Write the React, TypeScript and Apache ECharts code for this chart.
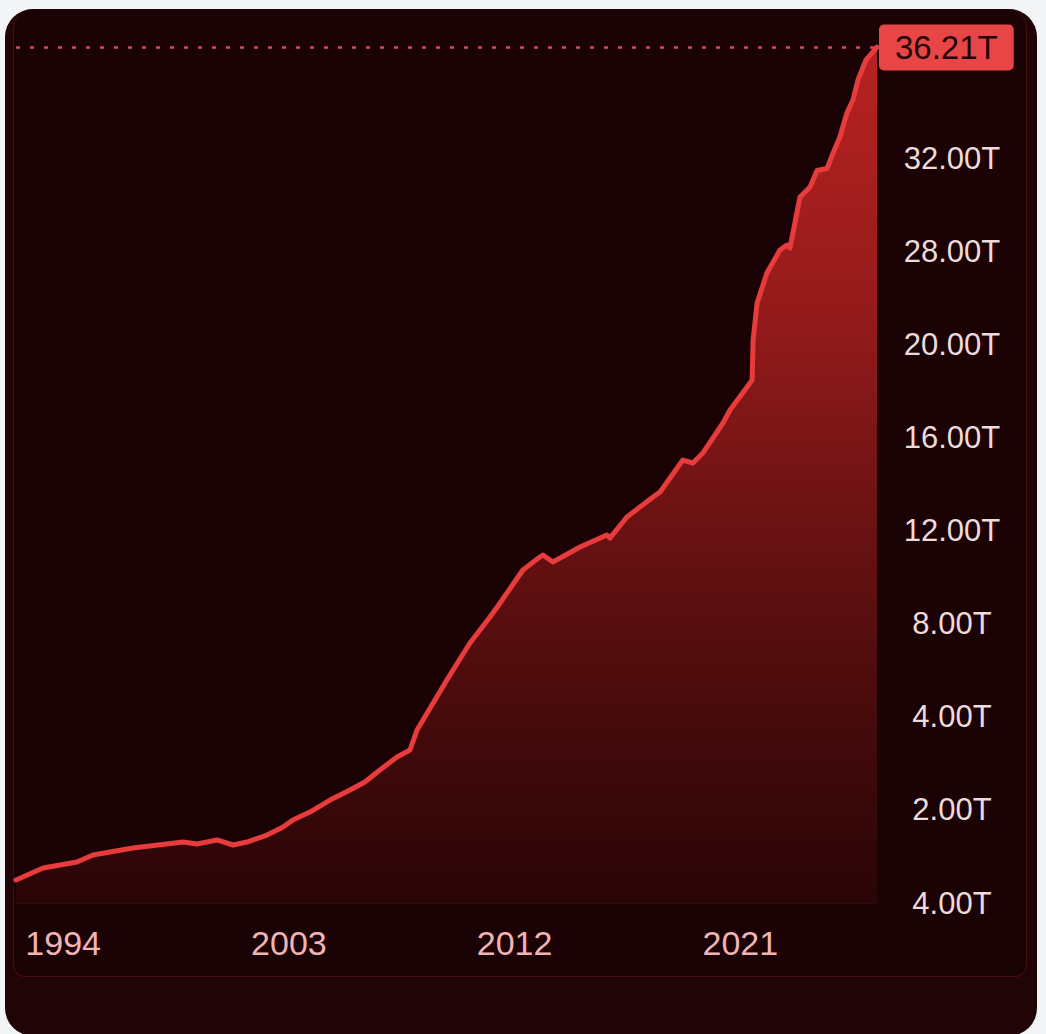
import React, { useEffect, useRef } from "react";
import * as echarts from "echarts";

// Data. x: year, y: position in axis tick units
// (the chart's y axis has evenly spaced, non-linear tick labels).
const years = [
  1992.12, 1993.2, 1994.55, 1995.19, 1996.78, 1998.78, 1999.34, 2000.13, 2000.77, 2001.33,
  2002.13, 2002.77, 2003.16, 2003.84, 2004.64, 2005.44, 2006.03, 2006.63, 2007.31, 2007.83,
  2008.11, 2009.3, 2010.22, 2011.02, 2011.42, 2012.33, 2013.01, 2013.13, 2013.53, 2014.61,
  2015.68, 2015.8, 2016.48, 2017.0, 2017.52, 2017.8, 2018.71, 2019.11, 2019.51, 2020.31,
  2020.59, 2021.27, 2021.47, 2021.51, 2021.67, 2022.06, 2022.58, 2022.86, 2022.98, 2023.38,
  2023.78, 2024.06, 2024.46, 2024.7, 2024.97, 2025.25, 2025.49, 2025.69, 2026.01, 2026.45,
];
const debtTickUnits = [
  0.247, 0.376, 0.44, 0.516, 0.591, 0.655, 0.634, 0.677, 0.623, 0.655,
  0.73, 0.816, 0.892, 0.977, 1.106, 1.214, 1.3, 1.429, 1.568, 1.643,
  1.858, 2.395, 2.793, 3.072, 3.222, 3.577, 3.716, 3.738, 3.663, 3.824,
  3.953, 3.92, 4.146, 4.254, 4.361, 4.415, 4.758, 4.726, 4.834, 5.156,
  5.295, 5.542, 5.618, 6.047, 6.445, 6.767, 7.014, 7.068, 7.036, 7.583,
  7.691, 7.868, 7.89, 8.056, 8.228, 8.486, 8.625, 8.84, 9.055, 9.194,
];
const yTickLabels = ["4.00T", "2.00T", "4.00T", "8.00T", "12.00T", "16.00T", "20.00T", "28.00T", "32.00T"];
const xTickYears = [1994, 2003, 2012, 2021];
const lastValueLabel = "36.21T";

const FONT = "'Liberation Sans', Arial, Helvetica, sans-serif";

export default function App() {
  const ref = useRef<HTMLDivElement>(null);

  useEffect(() => {
    if (!ref.current) return;
    const chart = echarts.init(ref.current, undefined, { renderer: "svg" });
    const seriesData = years.map((y, i) => [y, debtTickUnits[i]]);
    const lastVal = debtTickUnits[debtTickUnits.length - 1];
    chart.setOption({
      animation: false,
      backgroundColor: "transparent",
      grid: { left: 16, right: 169, top: 46.5, bottom: 131 },
      xAxis: {
        type: "value",
        min: years[0],
        max: years[years.length - 1],
        splitLine: { show: false },
        axisTick: { show: false },
        axisLine: { show: true, lineStyle: { color: "#3e0d12", width: 1.5 } },
        axisLabel: {
          customValues: xTickYears,
          formatter: (v: number) => String(Math.round(v)),
          color: "#f0b4b4",
          fontSize: 34,
          fontFamily: FONT,
          margin: 23,
        },
      },
      yAxis: {
        type: "value",
        position: "right",
        min: 0,
        max: 9.2,
        interval: 1,
        splitLine: { show: false },
        axisTick: { show: false },
        axisLine: { show: false },
        axisLabel: {
          formatter: (v: number) => yTickLabels[Math.round(v)] ?? "",
          color: "#eddada",
          fontSize: 31,
          fontFamily: FONT,
          align: "center",
          margin: 75,
          showMaxLabel: false,
        },
      },
      series: [
        {
          type: "line",
          data: seriesData,
          symbol: "none",
          smooth: false,
          lineStyle: { color: "#e83b3c", width: 5, cap: "round", join: "round" },
          areaStyle: {
            origin: "start",
            opacity: 1,
            color: new echarts.graphic.LinearGradient(0, 0, 0, 1, [
              { offset: 0, color: "#b72222" },
              { offset: 0.3, color: "#961b1b" },
              { offset: 0.55, color: "#6c1213" },
              { offset: 0.8, color: "#440a0b" },
              { offset: 1, color: "#2a0507" },
            ]),
          },
          markLine: {
            silent: true,
            symbol: "none",
            lineStyle: { color: "#d24a56", type: [4, 10], width: 2.5 },
            label: {
              show: true,
              position: "end",
              distance: 2,
              formatter: () => lastValueLabel,
              color: "#230404",
              fontSize: 33,
              fontFamily: FONT,
              backgroundColor: "#e84646",
              borderRadius: 5,
              padding: [7, 16, 6, 16],
            },
            data: [{ yAxis: lastVal }],
          },
        },
      ],
    });
    return () => chart.dispose();
  }, []);

  return (
    <div style={{ position: "fixed", left: 0, top: 0, width: 1046, height: 1034, background: "#f2f4f6", overflow: "hidden" }}>
      <div
        style={{
          position: "absolute",
          left: 5,
          top: 9,
          width: 1032,
          height: 1027,
          borderRadius: 28,
          background: "#200406",
          overflow: "hidden",
        }}
      >
        <div
          style={{
            position: "absolute",
            left: 8,
            top: 0,
            width: 1012,
            height: 967,
            borderRadius: "20px 20px 12px 12px",
            border: "1.5px solid rgba(110,22,28,0.55)",
            borderTop: "none",
            background: "#1a0205",
          }}
        />
      </div>
      <div ref={ref} style={{ position: "absolute", left: 0, top: 0, width: 1046, height: 1034 }} />
    </div>
  );
}
